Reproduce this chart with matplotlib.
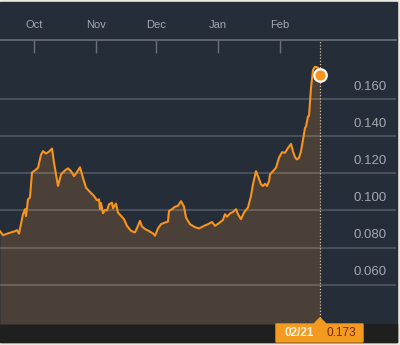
import matplotlib
matplotlib.use('Agg')

import matplotlib.pyplot as plt
import matplotlib.transforms as mtransforms
import matplotlib.dates as mdates
from matplotlib.patches import Rectangle, Polygon
import numpy as np
import pandas as pd

plt.rcParams['font.family'] = ['Liberation Sans', 'DejaVu Sans']

# --- data (days since 2014-09-14, rate) ---
start = pd.Timestamp('2014-09-14')
day_offset = [0, 1.5, 5, 7.5, 8.5, 9.5, 11.5, 12.5, 13, 14, 15, 16, 17.5, 19,
              20.5, 21.5, 23, 24.5, 26, 27, 29, 30.5, 32.5, 34, 35.5, 37, 38.5,
              40, 41.5, 43, 45, 47, 48.5, 49.5, 50, 50.5, 51.5, 52.5, 53.5, 54.5,
              56, 56.5, 58, 59, 60.5, 62, 63.5, 65.5, 67.5, 69, 70, 71, 72.5,
              74.5, 76.5, 77.5, 79, 80.5, 82.5, 84, 84.5, 86, 87.5, 89, 90.5, 92,
              93, 95, 97.5, 99.5, 102, 104, 106, 107.5, 109.5, 111.5, 112.5,
              113.5, 115, 116.5, 118, 119, 120.5, 122, 124, 125.5, 126.5, 128,
              129, 130.5, 131.5, 132.5, 133.5, 134.5, 135, 136.5, 138, 139.5,
              141, 142.5, 144, 145.5, 146.5, 147.5, 148.5, 149.5, 150.5, 151.5,
              152.5, 153, 154, 154.5, 155.5, 156.5, 157.5, 159, 160]
rate = [0.0888, 0.0867, 0.0880, 0.0888, 0.0894, 0.0875, 0.0980, 0.1007, 0.0970,
        0.1060, 0.1070, 0.1205, 0.1216, 0.1230, 0.1300, 0.1320, 0.1307, 0.1317,
        0.1334, 0.1258, 0.1132, 0.1194, 0.1216, 0.1227, 0.1212, 0.1185, 0.1207,
        0.1233, 0.1176, 0.1123, 0.1100, 0.1078, 0.1055, 0.1060, 0.1007, 0.1040,
        0.0985, 0.1003, 0.1000, 0.1033, 0.1042, 0.1012, 0.1037, 0.0989, 0.0971,
        0.0953, 0.0917, 0.0890, 0.0882, 0.0917, 0.0944, 0.0914, 0.0900, 0.0889,
        0.0876, 0.0864, 0.0903, 0.0926, 0.0935, 0.0940, 0.0997, 0.1007, 0.1020,
        0.1025, 0.1050, 0.1021, 0.0962, 0.0926, 0.0910, 0.0903, 0.0917, 0.0926,
        0.0938, 0.0917, 0.0932, 0.0949, 0.0980, 0.0966, 0.0984, 0.0992, 0.1007,
        0.0980, 0.0953, 0.0989, 0.1016, 0.1078, 0.1141, 0.1212, 0.1185, 0.1141,
        0.1132, 0.1144, 0.1132, 0.1158, 0.1194, 0.1212, 0.1230, 0.1284, 0.1314,
        0.1311, 0.1337, 0.1359, 0.1319, 0.1287, 0.1275, 0.1284, 0.1319, 0.1382,
        0.1444, 0.1453, 0.1507, 0.1510, 0.1660, 0.1757, 0.1775, 0.1770, 0.1730]
grid_vals = [0.06, 0.08, 0.10, 0.12, 0.14, 0.16]
month_starts = ['2014-10-01', '2014-11-01', '2014-12-01', '2015-01-01', '2015-02-01']

dates = start + pd.to_timedelta(day_offset, unit='D')
months = pd.to_datetime(month_starts)

# colours
navy = '#252d39'
orange = '#f7941d'
fill_col = '#4a4038'
txt_col = '#a4a9b0'

ymin, ymax = 0.0388, 0.1919

fig = plt.figure(figsize=(4, 3.45), dpi=100, facecolor='#ece9e2')
# background panel and bottom band (figure pixels: 400 x 345)
fig.patches.append(Rectangle((0, 3 / 345), 397 / 400, 340 / 345, transform=fig.transFigure,
                             color=navy, zorder=-2))
fig.patches.append(Rectangle((0, 3 / 345), 397 / 400, 18 / 345, transform=fig.transFigure,
                             color='#1f1f20', zorder=-1))

ax = fig.add_axes([0, 21 / 345, 396 / 400, 284 / 345])
ax.set_facecolor(navy)
ax.set_xlim(start, start + pd.Timedelta(days=198))
ax.set_ylim(ymin, ymax)

# area + line
ax.fill_between(dates, rate, ymin, color=fill_col, lw=0, zorder=1)
for v in grid_vals:
    ax.axhline(v, color='white', alpha=0.22, lw=1.1, zorder=2)
ax.plot(dates, rate, color=orange, lw=1.5, zorder=4, solid_joinstyle='round')

# last point marker and dotted guide
last_date, last_val = dates[-1], rate[-1]
ax.axvline(last_date, color='#d8c49c', lw=0.9, ls=(0, (1, 1.5)), zorder=3)
ax.plot([last_date], [last_val], 'o', ms=9, mfc=orange, mec='white', mew=1.6, zorder=5)

# y labels drawn inside on the right, above each grid line
trans_y = mtransforms.blended_transform_factory(ax.transAxes, ax.transData)
for v in grid_vals:
    ax.text(387 / 396, v + 0.0068, '%.3f' % v, transform=trans_y, ha='right', va='center',
            color=txt_col, fontsize=9.5, zorder=6)

# top month axis
ax.set_yticks([])
ax.xaxis.tick_top()
ax.set_xticks(months)
ax.set_xticklabels([m.strftime('%b') for m in months])
ax.tick_params(axis='x', direction='in', length=9, width=1, color='#6a7079',
               labelcolor=txt_col, labelsize=8, pad=7)
for s in ['left', 'right', 'bottom']:
    ax.spines[s].set_visible(False)
ax.spines['top'].set_color('#5f6670')
ax.spines['top'].set_linewidth(1.4)

# value tag under the last point
trans_x = mtransforms.blended_transform_factory(ax.transData, ax.transAxes)
xl = mdates.date2num(last_date)
tag = Polygon([(xl - 22, 0), (xl - 3, 0), (xl, 0.022), (xl + 3, 0), (xl + 21.5, 0),
               (xl + 21.5, -0.0634), (xl - 22, -0.0634)],
              closed=True, transform=trans_x, color='#f39a1f', clip_on=False, zorder=6)
ax.add_patch(tag)
ax.text(xl - 10.5, -0.032, last_date.strftime('%m/%d'), transform=trans_x,
        ha='center', va='center', color='#fff3dc', fontsize=8.5, fontweight='bold', zorder=7)
ax.text(xl + 10.5, -0.032, '%.3f' % last_val, transform=trans_x,
        ha='center', va='center', color='#7a2708', fontsize=8.5, zorder=7)

plt.savefig('out.png', dpi=100, facecolor=fig.get_facecolor())
